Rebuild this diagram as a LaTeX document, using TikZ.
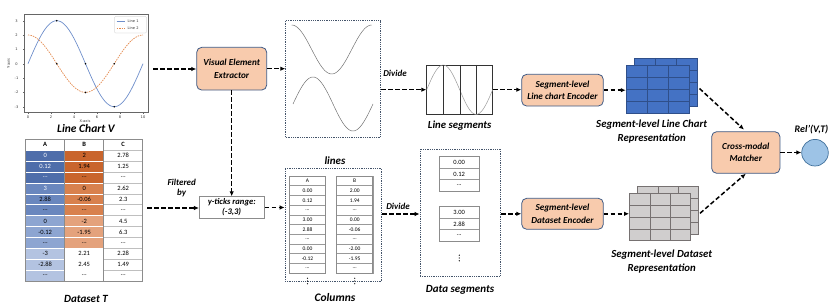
\documentclass[tikz,border=0pt]{standalone}
\usepackage{fontspec}
\setmainfont{Carlito}
\newfontfamily\plotfont{DejaVu Sans}
\usetikzlibrary{arrows.meta,calc}
\newcommand{\elp}{...}
\definecolor{peach}{HTML}{F8CBAD}
\definecolor{boxedge}{HTML}{3F5A85}
\definecolor{dotblue}{HTML}{44546A}
\definecolor{gridblue}{HTML}{4472C4}
\definecolor{gridblueline}{HTML}{2F4F8A}
\definecolor{gridgray}{HTML}{D0CECE}
\definecolor{gridgrayline}{HTML}{767171}
\definecolor{circfill}{HTML}{9DC3E6}
\definecolor{circedge}{HTML}{41719C}
\definecolor{lineone}{HTML}{6F8FCB}
\definecolor{linetwo}{HTML}{E38A4E}
\definecolor{aone}{HTML}{4E6DAA}
\definecolor{atwo}{HTML}{6A87BE}
\definecolor{athree}{HTML}{8DA5D1}
\definecolor{afour}{HTML}{B3C3E1}
\definecolor{bone}{HTML}{C9652D}
\definecolor{btwo}{HTML}{D8814E}
\definecolor{bthree}{HTML}{E4A27C}
\tikzset{
  flow/.style={line width=1.5pt, dash pattern=on 4.5pt off 2.5pt, -{Latex[length=5pt,width=4.5pt]}},
  proc/.style={draw=boxedge, line width=0.8pt, fill=peach, rounded corners=5pt, align=center,
    font=\fontsize{9.2}{12.5}\selectfont\bfseries\itshape, inner sep=0pt},
  biglbl/.style={font=\fontsize{11}{13}\selectfont\bfseries\itshape, align=center, inner sep=0pt},
  replbl/.style={font=\fontsize{10.8}{14}\selectfont\bfseries\itshape, align=center, inner sep=0pt},
  smalllbl/.style={font=\fontsize{9}{10}\selectfont\bfseries\itshape, align=center, inner sep=0pt},
  dotbox/.style={draw=dotblue, densely dotted, line width=0.8pt, inner sep=0pt},
  tcell/.style={draw=white, line width=0.6pt, minimum width=39pt, minimum height=10.9pt, inner sep=0pt,
    font=\fontsize{6.5}{7}\selectfont},
  ccell/.style={draw=gray!80, line width=0.5pt, fill=white, minimum width=36.3pt, minimum height=9.7pt, inner sep=0pt,
    font=\fontsize{5.5}{6}\selectfont},
  dcell/.style={draw=gray!80, line width=0.5pt, fill=white, minimum width=40.3pt, minimum height=11.5pt, inner sep=0pt,
    font=\fontsize{6.5}{7}\selectfont},
  tick/.style={font=\plotfont\fontsize{3.6}{4}\selectfont, inner sep=0pt, text=black!80}
}
\newcommand{\vdotmark}[2]{\foreach \dd in {-2.8,0,2.8} \fill (#1,{#2+\dd}) circle (0.65);}
\begin{document}
\begin{tikzpicture}[x=1pt,y=-1pt]
\useasboundingbox (0,0) rectangle (830,305);

% ---------------- line chart ----------------
\draw[black!60, line width=0.4pt] (24,14) rectangle (148,112);
\foreach \k [count=\n] in {-3,-2,-1,0,1,2,3} {
  \draw[black!60, line width=0.3pt] (24,{63.7-14.33*\k}) -- (22.5,{63.7-14.33*\k});
  \node[tick] (yt\n) at (16.5,{63.7-14.33*\k}) {\k};
}
\foreach \k [count=\n] in {0,2,4,6,8,10} {
  \draw[black!60, line width=0.3pt] ({28+11.5*\k},112) -- ({28+11.5*\k},113.5);
  \node[tick] (xt\n) at ({28+11.5*\k},116.8) {\k};
}
\node[tick] (xlab) at (85,121.2) {X-axis};
\node[tick, rotate=90] (ylab) at (8.5,63.7) {Y-axis};
\draw[lineone, line width=0.7pt, domain=0:10, samples=80, smooth] plot ({28+11.5*\x},{63.7-43*sin(36*\x)});
\draw[linetwo, line width=0.7pt, dash pattern=on 1.5pt off 1pt, domain=0:10, samples=80, smooth] plot ({28+11.5*\x},{63.7-28.66*cos(36*\x)});
\foreach \px/\py in {56.75/20.7, 56.75/63.7, 85.5/63.7, 85.5/92.4, 114.25/63.7, 114.25/106.7}
  \fill (\px,\py) circle (0.9);
\draw[black!25, line width=0.3pt, fill=white, rounded corners=1pt] (114.5,16.5) rectangle (146.5,33);
\draw[lineone, line width=0.6pt] (116.5,21.3) -- (125,21.3);
\draw[linetwo, line width=0.6pt, dash pattern=on 1.5pt off 1pt] (116.5,28.5) -- (125,28.5);
\node[tick, anchor=west] (lg1) at (127.5,21.3) {Line 1};
\node[tick, anchor=west] (lg2) at (127.5,28.5) {Line 2};
\node[biglbl, font=\fontsize{11.5}{13}\selectfont\bfseries\itshape] (chartlbl) at (86,128.5) {Line Chart V};
\coordinate (chartout) at (153,69);

% ---------------- dataset table ----------------
\foreach \h [count=\n] in {A,B,C}
  \node[tcell, draw=gray!60, fill=white, font=\fontsize{6.5}{7}\selectfont\bfseries] (th\n) at ({6.2+39*\n},144.75) {\h};
\foreach \i/\a/\b/\c/\ca/\cb/\ta in {
  1/0/2/2.78/aone/bone/white,
  2/0.12/1.94/1.25/aone/bone/white,
  3/\elp/\elp/\elp/aone/bone/white,
  4/3/0/2.62/atwo/btwo/white,
  5/2.88/-0.06/2.3/atwo/btwo/black,
  6/\elp/\elp/\elp/atwo/btwo/black,
  7/0/-2/4.5/athree/bthree/black,
  8/-0.12/-1.95/6.3/athree/bthree/black,
  9/\elp/\elp/\elp/athree/bthree/black,
  10/-3/2.21/2.28/afour/white/black,
  11/-2.88/2.45/1.49/afour/white/black,
  12/\elp/\elp/\elp/afour/white/black} {
  \node[tcell, fill=\ca, text=\ta] (ta\i) at (45.2,{139.3+10.9*\i+5.45}) {\a};
  \node[tcell, fill=\cb] (tb\i) at (84.2,{139.3+10.9*\i+5.45}) {\b};
  \node[tcell, fill=white, draw=gray!50] (tc\i) at (123.2,{139.3+10.9*\i+5.45}) {\c};
}
\draw[gray!90, line width=0.6pt] (25.7,139.3) rectangle (142.7,281);
\draw[gray!90, line width=0.6pt] (64.7,139.3) -- (64.7,281) (103.7,139.3) -- (103.7,281);
\node[biglbl] (tablbl) at (86,298.5) {Dataset T};
\coordinate (tabout) at (147,208);

% ---------------- extractor and filter ----------------
\node[proc, minimum width=70pt, minimum height=42.7pt] (vee) at (231.7,68.7) {Visual Element\\Extractor};
\node[draw=gray!90, line width=0.6pt, fill=white, minimum width=65pt, minimum height=21.7pt, inner sep=0pt,
  align=center, font=\fontsize{8.6}{10}\selectfont\bfseries\itshape] (ytick) at (231.7,207.5) {y-ticks range:\\(-3,3)};
\node[smalllbl] (filt) at (181.7,188) {Filtered\\by};
\draw[flow] (chartout) -- (chartout -| vee.west);
\draw[flow] (tabout) -- (tabout -| ytick.west);
\draw[flow] (vee.south) -- (ytick.north);

% ---------------- lines box (top) ----------------
\node[dotbox, minimum width=95pt, minimum height=117pt] (linesbox) at (333.2,78.5) {};
\draw[black!55, line width=0.5pt, domain=291.7:371.7, samples=60, smooth] plot (\x,{49.5-24.5*cos(4.5*(\x-291.7))});
\draw[black!55, line width=0.5pt, domain=293:373, samples=60, smooth] plot (\x,{104-27*sin(4.5*(\x-293))});
\draw[flow] (vee.east) -- (vee.east -| linesbox.west);

% ---------------- line segments ----------------
\node[draw=black!80, line width=0.8pt, minimum width=66pt, minimum height=49.3pt, inner sep=0pt] (segbox) at (459.7,89.7) {};
\draw[black!40, line width=0.5pt, domain=426.7:492.7, samples=60, smooth] plot (\x,{89.7-24.7*sin(5.4545*(\x-426.7))});
\foreach \sx in {443.3,460,476.7}
  \draw[black!80, line width=0.8pt] (\sx,65) -- (\sx,114.3);
\node[smalllbl] (div1) at (395,73) {Divide};
\draw[flow] (linesbox.east |- segbox.west) -- (segbox.west);
\node[biglbl, font=\fontsize{10.8}{13}\selectfont\bfseries\itshape] (seglbl) at (459.7,125.5) {Line segments};

% ---------------- line chart encoder ----------------
\node[proc, minimum width=81.6pt, minimum height=31.7pt] (lenc) at (562.5,90.2) {Segment-level\\Line chart Encoder};
\draw[flow] (segbox.east) -- (segbox.east -| lenc.west);

% blue grids
\begin{scope}[shift={(8,-7)}]
  \fill[gridblue] (626,65) rectangle (689,113.3);
  \draw[gridblueline, line width=0.5pt] (626,65) rectangle (689,113.3);
  \foreach \gx in {647,668} \draw[gridblueline, line width=0.5pt] (\gx,65) -- (\gx,113.3);
  \foreach \gy in {77.1,89.15,101.2} \draw[gridblueline, line width=0.5pt] (626,\gy) -- (689,\gy);
\end{scope}
\node[fill=gridblue, draw=gridblueline, line width=0.5pt, minimum width=63pt, minimum height=48.3pt, inner sep=0pt] (lgrid) at (657.5,89.15) {};
\foreach \gx in {647,668} \draw[gridblueline, line width=0.5pt] (\gx,65) -- (\gx,113.3);
\foreach \gy in {77.1,89.15,101.2} \draw[gridblueline, line width=0.5pt] (626,\gy) -- (689,\gy);
\draw[flow] (lenc.east) -- (lenc.east -| lgrid.west);
\node[replbl] (lreplbl) at (651.7,132) {Segment-level Line Chart\\Representation};
\coordinate (lgridout) at (699.5,88.5);

% ---------------- matcher ----------------
\node[proc, minimum width=68.3pt, minimum height=41.6pt] (match) at (745.8,152.5) {Cross-modal\\Matcher};
\node[circle, fill=circfill, draw=circedge, line width=0.7pt, minimum size=26.6pt, inner sep=0pt] (rel) at (815,152.7) {};
\node[smalllbl, font=\fontsize{10}{12}\selectfont\bfseries\itshape] (rellbl) at (811.5,129.5) {Rel'(V,T)};
\draw[flow, shorten >=2.5pt] (lgridout) -- (match.north);
\draw[flow] (match.east) -- (match.east -| rel.west);

% ---------------- columns box ----------------
\node[dotbox, minimum width=96.7pt, minimum height=113.4pt] (colbox) at (333.35,225) {};
\node[biglbl] (lineslbl) at (335,161) {lines};
\foreach \i/\a/\b in {0/A/B, 1/0.00/2.00, 2/0.12/1.94, 3/\elp/\elp, 4/3.00/0.00, 5/2.88/-0.06, 6/\elp/\elp, 7/0.00/-2.00, 8/-0.12/-1.95, 9/\elp/\elp} {
  \node[ccell] (ca\i) at (307.5,{176+9.7*\i+4.85}) {\a};
  \node[ccell] (cb\i) at (354.7,{176+9.7*\i+4.85}) {\b};
}
\draw[gray!90, line width=0.8pt] (289.35,176) rectangle (325.65,273);
\draw[gray!90, line width=0.8pt] (336.55,176) rectangle (372.85,273);
\vdotmark{307.5}{281}
\vdotmark{354.7}{281}
\node[biglbl, font=\fontsize{11.5}{13}\selectfont\bfseries\itshape] (collbl) at (335,298) {Columns};
\draw[flow] (ytick.east) -- (ytick.east -| colbox.west);

% ---------------- data segments ----------------
\node[dotbox, minimum width=80.7pt, minimum height=126.7pt] (dsbox) at (460.35,212.65) {};
\foreach \i/\v in {0/0.00, 1/0.12, 2/\elp}
  \node[dcell] (ds\i) at (459.15,{156.7+11.5*\i+5.75}) {\v};
\foreach \i/\v in {0/3.00, 1/2.88, 2/\elp}
  \node[dcell] (de\i) at (459.15,{206.7+11.5*\i+5.75}) {\v};
\draw[gray!90, line width=0.7pt] (439,156.7) rectangle (479.3,191.2);
\draw[gray!90, line width=0.7pt] (439,206.7) rectangle (479.3,241.2);
\vdotmark{459.3}{258}
\node[biglbl] (dslbl) at (460,290) {Data segments};
\node[smalllbl] (div2) at (398,206.5) {Divide};
\coordinate (colout) at (colbox.east |- 0,214);
\draw[flow] (colout) -- (colout -| dsbox.west);

% ---------------- dataset encoder ----------------
\node[proc, minimum width=81.6pt, minimum height=31pt] (denc) at (562.5,213.8) {Segment-level\\Dataset Encoder};
\draw[flow] (dsbox.east |- denc.west) -- (denc.west);

% gray grids
\begin{scope}[shift={(8,-6.7)}]
  \fill[gridgray] (629.3,193.3) rectangle (690,240.7);
  \draw[gridgrayline, line width=0.5pt] (629.3,193.3) rectangle (690,240.7);
  \foreach \gx in {650.7,670} \draw[gridgrayline, line width=0.5pt] (\gx,193.3) -- (\gx,240.7);
  \foreach \gy in {205.15,217,228.85} \draw[gridgrayline, line width=0.5pt] (629.3,\gy) -- (690,\gy);
\end{scope}
\node[fill=gridgray, draw=gridgrayline, line width=0.5pt, minimum width=60.7pt, minimum height=47.4pt, inner sep=0pt] (dgrid) at (659.65,217) {};
\foreach \gx in {650.7,670} \draw[gridgrayline, line width=0.5pt] (\gx,193.3) -- (\gx,240.7);
\foreach \gy in {205.15,217,228.85} \draw[gridgrayline, line width=0.5pt] (629.3,\gy) -- (690,\gy);
\draw[flow] (denc.east) -- (denc.east -| dgrid.west);
\node[replbl] (dreplbl) at (661.7,261.7) {Segment-level Dataset\\Representation};
\coordinate (dgridout) at (700,213.3);
\draw[flow] (dgridout) -- (match.south);

\end{tikzpicture}
\end{document}
